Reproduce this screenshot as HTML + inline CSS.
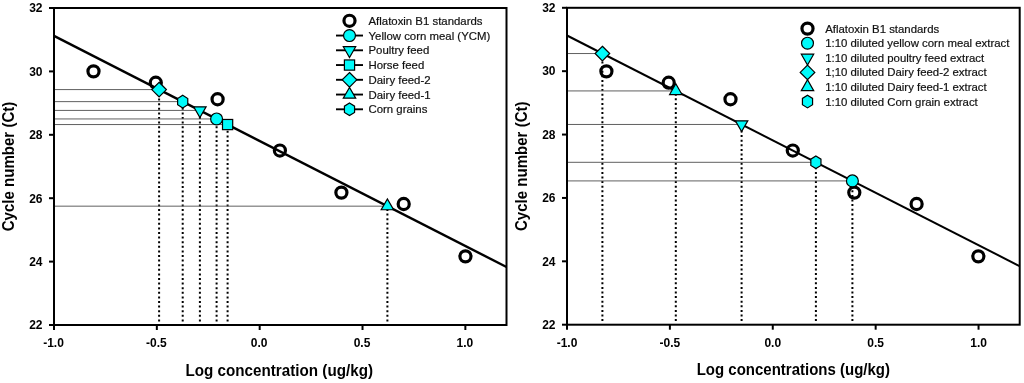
<!DOCTYPE html>
<html><head><meta charset="utf-8"><style>
html,body{margin:0;padding:0;background:#fff;}
body{width:1024px;height:383px;overflow:hidden;}
svg{display:block;will-change:transform;}
text{font-family:"Liberation Sans",sans-serif;fill:#000;}
.tl{font-size:12px;font-weight:bold;}
.tt{font-size:15px;font-weight:bold;}
.lg{font-size:11.4px;fill:#111;stroke:#111;stroke-width:0.2px;}
</style></head><body>
<svg width="1024" height="383" viewBox="0 0 1024 383">
<rect width="1024" height="383" fill="#fff"/>
<line x1="54" y1="89.58" x2="159.1" y2="89.58" stroke="#606060" stroke-width="1"/>
<line x1="159.1" y1="321.4" x2="159.1" y2="89.58" stroke="#000" stroke-width="2" stroke-dasharray="2 2.6"/>
<line x1="54" y1="101.63" x2="182.7" y2="101.63" stroke="#606060" stroke-width="1"/>
<line x1="182.7" y1="321.4" x2="182.7" y2="101.63" stroke="#000" stroke-width="2" stroke-dasharray="2 2.6"/>
<line x1="54" y1="110.41" x2="199.9" y2="110.41" stroke="#606060" stroke-width="1"/>
<line x1="199.9" y1="321.4" x2="199.9" y2="110.41" stroke="#000" stroke-width="2" stroke-dasharray="2 2.6"/>
<line x1="54" y1="118.94" x2="216.6" y2="118.94" stroke="#606060" stroke-width="1"/>
<line x1="216.6" y1="321.4" x2="216.6" y2="118.94" stroke="#000" stroke-width="2" stroke-dasharray="2 2.6"/>
<line x1="54" y1="124.56" x2="227.6" y2="124.56" stroke="#606060" stroke-width="1"/>
<line x1="227.6" y1="321.4" x2="227.6" y2="124.56" stroke="#000" stroke-width="2" stroke-dasharray="2 2.6"/>
<line x1="54" y1="206.17" x2="387.4" y2="206.17" stroke="#606060" stroke-width="1"/>
<line x1="387.4" y1="321.4" x2="387.4" y2="206.17" stroke="#000" stroke-width="2" stroke-dasharray="2 2.6"/>
<line x1="54" y1="35.9" x2="506.5" y2="267" stroke="#000" stroke-width="2.4"/>
<circle cx="93.5" cy="71.35" r="5.55" fill="none" stroke="#000" stroke-width="3.2"/>
<circle cx="155.8" cy="82.7" r="5.55" fill="none" stroke="#000" stroke-width="3.2"/>
<circle cx="217.6" cy="99.25" r="5.55" fill="none" stroke="#000" stroke-width="3.2"/>
<circle cx="279.9" cy="150.55" r="5.55" fill="none" stroke="#000" stroke-width="3.2"/>
<circle cx="341.4" cy="192.6" r="5.55" fill="none" stroke="#000" stroke-width="3.2"/>
<circle cx="403.7" cy="204" r="5.55" fill="none" stroke="#000" stroke-width="3.2"/>
<circle cx="465.45" cy="256.35" r="5.55" fill="none" stroke="#000" stroke-width="3.2"/>
<polygon points="159.1,82.28 166.4,89.58 159.1,96.88 151.8,89.58" fill="#00fafa" stroke="#000" stroke-width="1.2"/>
<polygon points="182.7,95.33 187.77,98.48 187.77,104.78 182.7,107.93 177.63,104.78 177.63,98.48" fill="#00fafa" stroke="#000" stroke-width="1.2"/>
<polygon points="193.7,106.81 206.1,106.81 199.9,117.61" fill="#00fafa" stroke="#000" stroke-width="1.2"/>
<circle cx="216.6" cy="118.94" r="5.95" fill="#00fafa" stroke="#000" stroke-width="1.2"/>
<rect x="222.5" y="119.46" width="10.2" height="10.2" fill="#00fafa" stroke="#000" stroke-width="1.2"/>
<polygon points="381.2,209.77 393.6,209.77 387.4,198.97" fill="#00fafa" stroke="#000" stroke-width="1.2"/>
<rect x="54" y="8" width="452.5" height="317" fill="none" stroke="#000" stroke-width="2"/>
<line x1="49" y1="325" x2="54" y2="325" stroke="#000" stroke-width="2"/>
<text x="42.5" y="329.3" text-anchor="end" class="tl">22</text>
<line x1="49" y1="261.6" x2="54" y2="261.6" stroke="#000" stroke-width="2"/>
<text x="42.5" y="265.9" text-anchor="end" class="tl">24</text>
<line x1="49" y1="198.2" x2="54" y2="198.2" stroke="#000" stroke-width="2"/>
<text x="42.5" y="202.5" text-anchor="end" class="tl">26</text>
<line x1="49" y1="134.8" x2="54" y2="134.8" stroke="#000" stroke-width="2"/>
<text x="42.5" y="139.1" text-anchor="end" class="tl">28</text>
<line x1="49" y1="71.4" x2="54" y2="71.4" stroke="#000" stroke-width="2"/>
<text x="42.5" y="75.7" text-anchor="end" class="tl">30</text>
<line x1="49" y1="8" x2="54" y2="8" stroke="#000" stroke-width="2"/>
<text x="42.5" y="12.3" text-anchor="end" class="tl">32</text>
<line x1="54" y1="325" x2="54" y2="330" stroke="#000" stroke-width="2"/>
<text x="53.5" y="347.4" text-anchor="middle" class="tl">-1.0</text>
<line x1="156.84" y1="325" x2="156.84" y2="330" stroke="#000" stroke-width="2"/>
<text x="156.34" y="347.4" text-anchor="middle" class="tl">-0.5</text>
<line x1="259.68" y1="325" x2="259.68" y2="330" stroke="#000" stroke-width="2"/>
<text x="259.18" y="347.4" text-anchor="middle" class="tl">0.0</text>
<line x1="362.52" y1="325" x2="362.52" y2="330" stroke="#000" stroke-width="2"/>
<text x="362.02" y="347.4" text-anchor="middle" class="tl">0.5</text>
<line x1="465.36" y1="325" x2="465.36" y2="330" stroke="#000" stroke-width="2"/>
<text x="464.86" y="347.4" text-anchor="middle" class="tl">1.0</text>
<text x="185.5" y="375.8" class="tt" style="font-size:15.8px" textLength="187.5" lengthAdjust="spacingAndGlyphs">Log concentration (ug/kg)</text>
<text transform="translate(13.65,166.5) rotate(-90)" x="-64.8" class="tt" style="font-size:15.8px" textLength="129.6" lengthAdjust="spacingAndGlyphs">Cycle number (Ct)</text>
<circle cx="349.5" cy="20.8" r="5.55" fill="none" stroke="#000" stroke-width="3.2"/>
<text x="368.5" y="24.8" class="lg">Aflatoxin B1 standards</text>
<line x1="336" y1="35.55" x2="363" y2="35.55" stroke="#000" stroke-width="1.9"/>
<circle cx="349.5" cy="35.55" r="5.95" fill="#00fafa" stroke="#000" stroke-width="1.2"/>
<text x="368.5" y="39.55" class="lg">Yellow corn meal (YCM)</text>
<line x1="336" y1="50.3" x2="363" y2="50.3" stroke="#000" stroke-width="1.9"/>
<polygon points="343.3,46.7 355.7,46.7 349.5,57.5" fill="#00fafa" stroke="#000" stroke-width="1.2"/>
<text x="368.5" y="54.3" class="lg">Poultry feed</text>
<line x1="336" y1="65.05" x2="363" y2="65.05" stroke="#000" stroke-width="1.9"/>
<rect x="344.4" y="59.95" width="10.2" height="10.2" fill="#00fafa" stroke="#000" stroke-width="1.2"/>
<text x="368.5" y="69.05" class="lg">Horse feed</text>
<line x1="336" y1="79.8" x2="363" y2="79.8" stroke="#000" stroke-width="1.9"/>
<polygon points="349.5,72.5 356.8,79.8 349.5,87.1 342.2,79.8" fill="#00fafa" stroke="#000" stroke-width="1.2"/>
<text x="368.5" y="83.8" class="lg">Dairy feed-2</text>
<line x1="336" y1="94.55" x2="363" y2="94.55" stroke="#000" stroke-width="1.9"/>
<polygon points="343.3,98.15 355.7,98.15 349.5,87.35" fill="#00fafa" stroke="#000" stroke-width="1.2"/>
<text x="368.5" y="98.55" class="lg">Dairy feed-1</text>
<line x1="336" y1="109.3" x2="363" y2="109.3" stroke="#000" stroke-width="1.9"/>
<polygon points="349.5,103 354.57,106.15 354.57,112.45 349.5,115.6 344.43,112.45 344.43,106.15" fill="#00fafa" stroke="#000" stroke-width="1.2"/>
<text x="368.5" y="113.3" class="lg">Corn grains</text>
<line x1="567" y1="53.54" x2="602.4" y2="53.54" stroke="#606060" stroke-width="1"/>
<line x1="602.4" y1="321.1" x2="602.4" y2="53.54" stroke="#000" stroke-width="2" stroke-dasharray="2 2.6"/>
<line x1="567" y1="90.93" x2="675.8" y2="90.93" stroke="#606060" stroke-width="1"/>
<line x1="675.8" y1="321.1" x2="675.8" y2="90.93" stroke="#000" stroke-width="2" stroke-dasharray="2 2.6"/>
<line x1="567" y1="124.46" x2="741.6" y2="124.46" stroke="#606060" stroke-width="1"/>
<line x1="741.6" y1="321.1" x2="741.6" y2="124.46" stroke="#000" stroke-width="2" stroke-dasharray="2 2.6"/>
<line x1="567" y1="162.31" x2="815.9" y2="162.31" stroke="#606060" stroke-width="1"/>
<line x1="815.9" y1="321.1" x2="815.9" y2="162.31" stroke="#000" stroke-width="2" stroke-dasharray="2 2.6"/>
<line x1="567" y1="180.91" x2="852.4" y2="180.91" stroke="#606060" stroke-width="1"/>
<line x1="852.4" y1="321.1" x2="852.4" y2="180.91" stroke="#000" stroke-width="2" stroke-dasharray="2 2.6"/>
<line x1="567" y1="35.5" x2="1019.6" y2="266.1" stroke="#000" stroke-width="2.0"/>
<circle cx="606.4" cy="71.35" r="5.55" fill="none" stroke="#000" stroke-width="3.2"/>
<circle cx="668.7" cy="82.7" r="5.55" fill="none" stroke="#000" stroke-width="3.2"/>
<circle cx="730.5" cy="99.25" r="5.55" fill="none" stroke="#000" stroke-width="3.2"/>
<circle cx="792.8" cy="150.55" r="5.55" fill="none" stroke="#000" stroke-width="3.2"/>
<circle cx="854.3" cy="192.6" r="5.55" fill="none" stroke="#000" stroke-width="3.2"/>
<circle cx="916.6" cy="204" r="5.55" fill="none" stroke="#000" stroke-width="3.2"/>
<circle cx="978.35" cy="256.35" r="5.55" fill="none" stroke="#000" stroke-width="3.2"/>
<polygon points="602.4,46.24 609.7,53.54 602.4,60.84 595.1,53.54" fill="#00fafa" stroke="#000" stroke-width="1.2"/>
<polygon points="669.6,94.53 682,94.53 675.8,83.73" fill="#00fafa" stroke="#000" stroke-width="1.2"/>
<polygon points="735.4,120.86 747.8,120.86 741.6,131.66" fill="#00fafa" stroke="#000" stroke-width="1.2"/>
<polygon points="815.9,156.01 820.97,159.16 820.97,165.46 815.9,168.61 810.83,165.46 810.83,159.16" fill="#00fafa" stroke="#000" stroke-width="1.2"/>
<circle cx="852.4" cy="180.91" r="5.95" fill="#00fafa" stroke="#000" stroke-width="1.2"/>
<rect x="567" y="7.8" width="452.7" height="316.9" fill="none" stroke="#000" stroke-width="2"/>
<line x1="562" y1="324.7" x2="567" y2="324.7" stroke="#000" stroke-width="2"/>
<text x="555.5" y="329" text-anchor="end" class="tl">22</text>
<line x1="562" y1="261.32" x2="567" y2="261.32" stroke="#000" stroke-width="2"/>
<text x="555.5" y="265.62" text-anchor="end" class="tl">24</text>
<line x1="562" y1="197.94" x2="567" y2="197.94" stroke="#000" stroke-width="2"/>
<text x="555.5" y="202.24" text-anchor="end" class="tl">26</text>
<line x1="562" y1="134.56" x2="567" y2="134.56" stroke="#000" stroke-width="2"/>
<text x="555.5" y="138.86" text-anchor="end" class="tl">28</text>
<line x1="562" y1="71.18" x2="567" y2="71.18" stroke="#000" stroke-width="2"/>
<text x="555.5" y="75.48" text-anchor="end" class="tl">30</text>
<line x1="562" y1="7.8" x2="567" y2="7.8" stroke="#000" stroke-width="2"/>
<text x="555.5" y="12.1" text-anchor="end" class="tl">32</text>
<line x1="567" y1="324.7" x2="567" y2="329.7" stroke="#000" stroke-width="2"/>
<text x="567" y="346.9" text-anchor="middle" class="tl">-1.0</text>
<line x1="669.89" y1="324.7" x2="669.89" y2="329.7" stroke="#000" stroke-width="2"/>
<text x="669.89" y="346.9" text-anchor="middle" class="tl">-0.5</text>
<line x1="772.77" y1="324.7" x2="772.77" y2="329.7" stroke="#000" stroke-width="2"/>
<text x="772.77" y="346.9" text-anchor="middle" class="tl">0.0</text>
<line x1="875.66" y1="324.7" x2="875.66" y2="329.7" stroke="#000" stroke-width="2"/>
<text x="875.66" y="346.9" text-anchor="middle" class="tl">0.5</text>
<line x1="978.55" y1="324.7" x2="978.55" y2="329.7" stroke="#000" stroke-width="2"/>
<text x="978.55" y="346.9" text-anchor="middle" class="tl">1.0</text>
<text x="696.7" y="374.9" class="tt" style="font-size:15.8px" textLength="193.3" lengthAdjust="spacingAndGlyphs">Log concentrations (ug/kg)</text>
<text transform="translate(526.65,166.25) rotate(-90)" x="-64.8" class="tt" style="font-size:15.8px" textLength="129.6" lengthAdjust="spacingAndGlyphs">Cycle number (Ct)</text>
<circle cx="807.5" cy="28.6" r="5.55" fill="none" stroke="#000" stroke-width="3.2"/>
<text x="825.2" y="32.6" class="lg">Aflatoxin B1 standards</text>
<circle cx="807.5" cy="43.2" r="5.95" fill="#00fafa" stroke="#000" stroke-width="1.2"/>
<text x="825.2" y="47.2" class="lg">1:10 diluted yellow corn meal extract</text>
<polygon points="801.3,54.2 813.7,54.2 807.5,65" fill="#00fafa" stroke="#000" stroke-width="1.2"/>
<text x="825.2" y="61.8" class="lg">1:10 diluted poultry feed extract</text>
<polygon points="807.5,65.1 814.8,72.4 807.5,79.7 800.2,72.4" fill="#00fafa" stroke="#000" stroke-width="1.2"/>
<text x="825.2" y="76.4" class="lg">1;10 diluted Dairy feed-2 extract</text>
<polygon points="801.3,90.6 813.7,90.6 807.5,79.8" fill="#00fafa" stroke="#000" stroke-width="1.2"/>
<text x="825.2" y="91" class="lg">1:10 diluted Dairy feed-1 extract</text>
<polygon points="807.5,95.3 812.57,98.45 812.57,104.75 807.5,107.9 802.43,104.75 802.43,98.45" fill="#00fafa" stroke="#000" stroke-width="1.2"/>
<text x="825.2" y="105.6" class="lg">1:10 diluted Corn grain extract</text>
</svg>
</body></html>
